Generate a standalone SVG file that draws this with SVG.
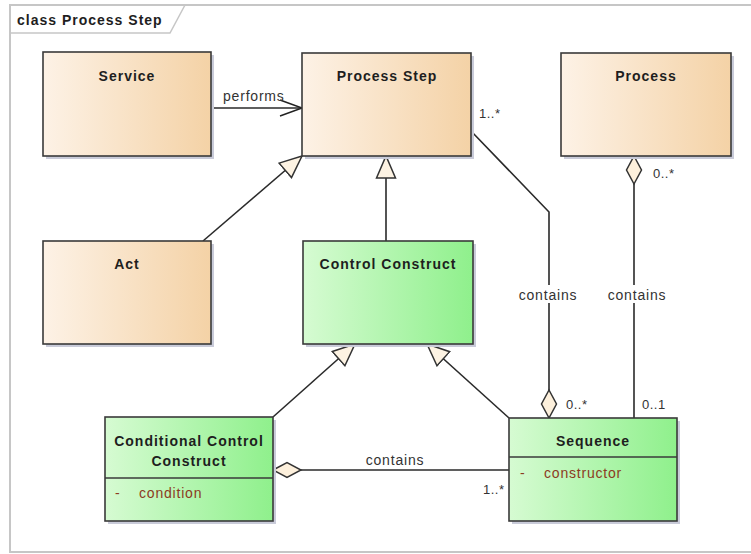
<svg xmlns="http://www.w3.org/2000/svg" width="751" height="554" viewBox="0 0 751 554">
<defs>
<linearGradient id="gOr" x1="0" y1="0" x2="1" y2="0">
<stop offset="0" stop-color="#fdf2e6"/>
<stop offset="1" stop-color="#f4d2a6"/>
</linearGradient>
<linearGradient id="gGr" x1="0" y1="0" x2="1" y2="0">
<stop offset="0" stop-color="#d6fbd2"/>
<stop offset="1" stop-color="#8ff08c"/>
</linearGradient>
<marker id="tri" markerUnits="userSpaceOnUse" markerWidth="26" markerHeight="22" refX="23" refY="11" orient="auto" viewBox="0 0 26 22">
<path d="M1,1.5 L23,11 L1,20.5 Z" fill="#fdf3e3" stroke="#333" stroke-width="1.5" stroke-linejoin="miter"/>
</marker>
<marker id="dia" markerUnits="userSpaceOnUse" markerWidth="32" markerHeight="20" refX="1" refY="10" orient="auto" viewBox="0 0 32 20">
<path d="M1,10 L15,2.5 L29,10 L15,17.5 Z" fill="#fdf0dc" stroke="#333" stroke-width="1.5"/>
</marker>
<marker id="open" markerUnits="userSpaceOnUse" markerWidth="26" markerHeight="20" refX="23" refY="10" orient="auto" viewBox="0 0 26 20">
<path d="M1,2 L23,10 L1,18" fill="none" stroke="#222" stroke-width="1.5"/>
</marker>
</defs>
<style>
.frame{fill:#fff;stroke:#c6c6c6;stroke-width:2}
.shadow{fill:#c9cbd9}
.box{stroke:#3a3a3a;stroke-width:1.6}
.or{fill:url(#gOr)}
.gr{fill:url(#gGr)}
.t{font-family:"Liberation Sans",Arial,sans-serif;font-size:14px;font-weight:bold;letter-spacing:1px;fill:#1e1e1e;text-anchor:middle}
.attr{font-family:"Liberation Sans",Arial,sans-serif;font-size:14px;letter-spacing:0.8px;fill:#8c3b22}
.lbl{font-family:"Liberation Sans",Arial,sans-serif;font-size:14px;letter-spacing:0.8px;fill:#333}
.mult{font-family:"Liberation Sans",Arial,sans-serif;font-size:13px;letter-spacing:0.5px;fill:#333}
.ln{fill:none;stroke:#2a2a2a;stroke-width:1.6}
.div{stroke:#3a3a3a;stroke-width:1.4}
</style>
<rect x="0" y="0" width="751" height="554" fill="#fff"/>
<rect class="frame" x="10" y="5" width="745" height="547"/>
<path d="M10,33 L170,33 L185,5" fill="none" stroke="#c6c6c6" stroke-width="1.5"/>
<text x="17" y="25" style="font-family:'Liberation Sans',Arial,sans-serif;font-size:14px;font-weight:bold;letter-spacing:1px;fill:#1e1e1e">class Process Step</text>

<g id="connectors">
<line class="ln" x1="211" y1="108" x2="302" y2="108" marker-end="url(#open)"/>
<line class="ln" x1="203" y1="241" x2="302" y2="156" marker-end="url(#tri)"/>
<line class="ln" x1="386" y1="241" x2="386" y2="156" marker-end="url(#tri)"/>
<line class="ln" x1="273" y1="417" x2="355" y2="344" marker-end="url(#tri)"/>
<line class="ln" x1="509" y1="418" x2="427" y2="344" marker-end="url(#tri)"/>
<polyline class="ln" points="549,418 549,212 471,131" marker-start="url(#dia)"/>
<line class="ln" x1="634" y1="156" x2="634" y2="418" marker-start="url(#dia)"/>
<line class="ln" x1="273" y1="470" x2="509" y2="470" marker-start="url(#dia)"/>
<text class="lbl" x="223" y="101">performs</text>
<text class="mult" x="479" y="118">1..*</text>
<text class="mult" x="653" y="178">0..*</text>
<rect x="515" y="285" width="66" height="18" fill="#fff"/>
<text class="lbl" x="548" y="300" text-anchor="middle">contains</text>
<rect x="604" y="285" width="66" height="18" fill="#fff"/>
<text class="lbl" x="637" y="300" text-anchor="middle">contains</text>
<text class="mult" x="566" y="409">0..*</text>
<text class="mult" x="642" y="409">0..1</text>
<text class="lbl" x="395" y="465" text-anchor="middle">contains</text>
<text class="mult" x="483" y="494">1..*</text>
</g>

<g id="service">
<rect class="shadow" x="46" y="55" width="168" height="104"/>
<rect class="box or" x="43" y="52" width="168" height="104"/>
<text class="t" x="127" y="81">Service</text>
</g>
<g id="process-step">
<rect class="shadow" x="305" y="56" width="169" height="103"/>
<rect class="box or" x="302" y="53" width="169" height="103"/>
<text class="t" x="387" y="81">Process Step</text>
</g>
<g id="process">
<rect class="shadow" x="564" y="56" width="170" height="103"/>
<rect class="box or" x="561" y="53" width="170" height="103"/>
<text class="t" x="646" y="81">Process</text>
</g>
<g id="act">
<rect class="shadow" x="46" y="244" width="168" height="103"/>
<rect class="box or" x="43" y="241" width="168" height="103"/>
<text class="t" x="127" y="269">Act</text>
</g>
<g id="control-construct">
<rect class="shadow" x="306" y="244" width="170" height="103"/>
<rect class="box gr" x="303" y="241" width="170" height="103"/>
<text class="t" x="388" y="269">Control Construct</text>
</g>
<g id="conditional-control-construct">
<rect class="shadow" x="108" y="420" width="168" height="104"/>
<rect class="box gr" x="105" y="417" width="168" height="104"/>
<line class="div" x1="105" y1="478" x2="273" y2="478"/>
<text class="t" x="189" y="446">Conditional Control</text>
<text class="t" x="189" y="466">Construct</text>
<text class="attr" x="115" y="498">-</text>
<text class="attr" x="139" y="498">condition</text>
</g>
<g id="sequence">
<rect class="shadow" x="512" y="421" width="168" height="103"/>
<rect class="box gr" x="509" y="418" width="168" height="103"/>
<line class="div" x1="509" y1="457" x2="677" y2="457"/>
<text class="t" x="593" y="446">Sequence</text>
<text class="attr" x="520" y="478">-</text>
<text class="attr" x="544" y="478">constructor</text>
</g>
</svg>
